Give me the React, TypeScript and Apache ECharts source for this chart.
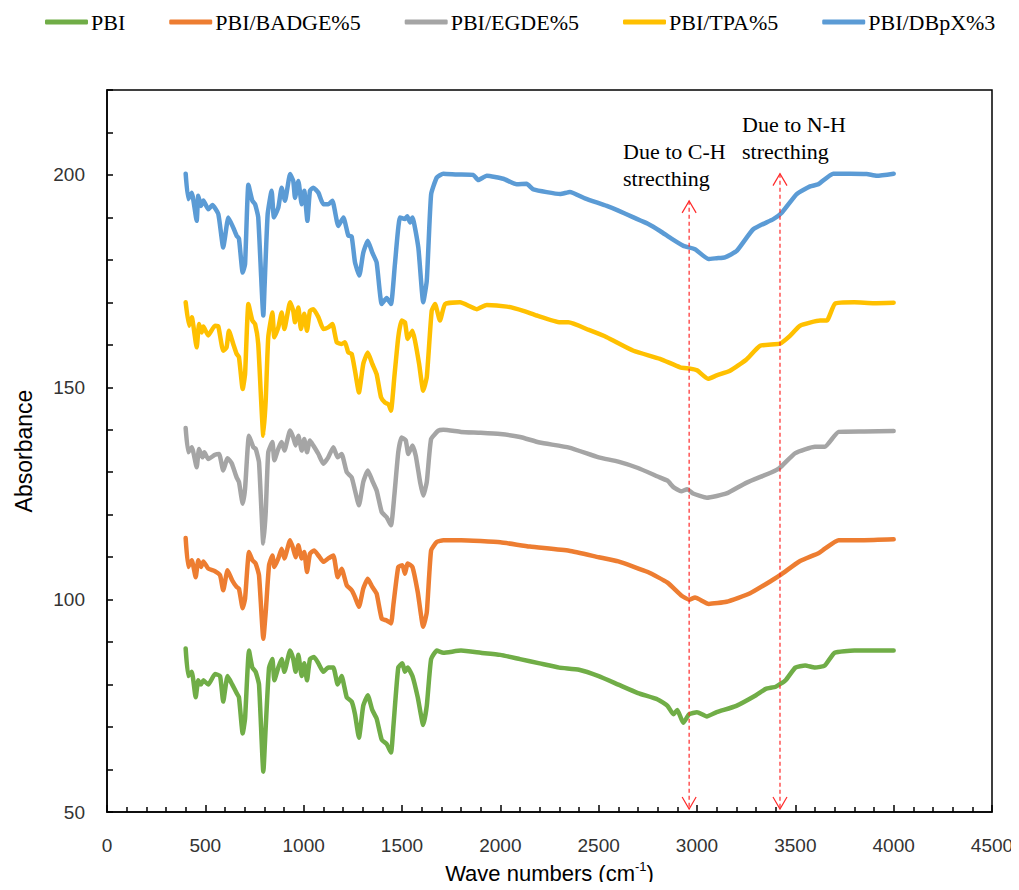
import React, { useEffect, useRef } from "react";
import * as echarts from "echarts";

const seriesNames = ["PBI", "PBI/BADGE%5", "PBI/EGDE%5", "PBI/TPA%5", "PBI/DBpX%3"];
const seriesColors = ["#70AD47", "#ED7D31", "#A5A5A5", "#FFC000", "#5B9BD5"];

const pbiX = [400,413,431,451,464,478,490,515,549,575,591,613,637,659,671,690,702,722,739,756,773,795,807,824,841,851,871,888,902,931,947,959,973,990,1003,1017,1032,1053,1075,1100,1125,1151,1173,1193,1219,1244,1261,1281,1303,1326,1349,1371,1397,1422,1444,1456,1481,1502,1515,1529,1553,1580,1608,1626,1648,1677,1710,1800,1900,2000,2100,2200,2300,2400,2500,2600,2700,2800,2850,2880,2900,2930,2960,3000,3050,3100,3200,3300,3350,3400,3450,3500,3550,3600,3650,3700,3800,4000];
const pbiY = [88.5,82,83,77,81,80,81,80,82.5,82,76,82,80,78,77,68.5,72,88,84,83,80,59.5,70,84,86,81,84,86,83,88,86,83,87,82,85,81,86,86.5,85,83,84,84,80,82,77,76,73,67.5,75,77.5,74,72,67,66,64,70,84,85,83,84,82,77,70.5,75,86,88,87.5,88,87.5,87,86,85,84,83.5,82,80,78,76.5,75,73,74,71,73,73.5,72.5,73.5,75,77.5,79,79.5,81,84,84.5,84,84.5,87.5,88,88];

const badgeX = [400,413,431,451,464,478,490,515,549,575,591,613,637,659,671,690,702,722,739,756,773,795,807,824,841,851,871,888,902,931,947,959,973,990,1003,1017,1032,1053,1075,1100,1125,1151,1173,1193,1219,1244,1261,1281,1303,1326,1349,1371,1397,1422,1444,1456,1481,1502,1515,1529,1553,1580,1608,1626,1648,1677,1710,1800,1900,2000,2150,2350,2500,2600,2750,2850,2920,2960,2990,3060,3150,3270,3380,3430,3520,3620,3650,3720,3850,4000];
const badgeY = [114.5,107.7,109.3,105.3,109.3,107.7,109.0,107.3,106.7,105.7,102.2,106.9,104.5,103.0,102.6,98.0,100.2,111.2,109.3,108.5,105.7,90.8,97.0,108.1,110.4,107.7,109.7,112.0,109.7,114.0,112.0,110.0,112.8,109.7,111.2,106.5,110.8,111.6,110.4,108.9,109.7,110.4,105.3,107.3,103.4,102.2,100.6,98.3,102.6,104.9,103.0,101.4,95.5,95.1,94.4,98.7,107.7,108.1,106.1,108.5,107.7,101.8,93.6,97.0,111.6,113.6,114.0,114.0,113.8,113.5,112.5,111.5,110.0,109.0,106.5,104.0,101.0,100.0,100.5,99.0,99.5,101.5,104.5,106.0,109.0,111.0,112.0,114.0,114.0,114.2];

const egdeX = [400,413,431,456,468,485,495,515,549,570,591,613,634,659,671,690,702,722,744,756,773,795,807,820,841,851,871,888,902,931,947,959,973,990,1003,1017,1032,1049,1075,1100,1125,1151,1173,1193,1219,1244,1261,1281,1303,1326,1349,1371,1397,1422,1444,1461,1481,1498,1519,1532,1553,1570,1592,1608,1626,1648,1685,1710,1800,1900,2000,2100,2200,2350,2500,2600,2700,2800,2850,2880,2920,2950,2980,3050,3150,3250,3380,3420,3500,3600,3650,3720,3850,4000];
const egdeY = [140.4,134.7,135.9,131.2,135.5,133.5,134.7,133.1,134.1,134.3,130.4,133.3,132.1,128.8,127.7,122.6,126.1,138.6,135.9,135.5,132.3,113.2,120.6,134.7,137.1,132.8,135.5,137.1,135.1,139.8,138.2,136.3,138.6,135.1,137.8,134.7,137.5,136.3,134.3,132.0,133.5,135.9,133.5,134.3,130.0,128.8,125.7,122.2,127.7,130.4,128.0,125.7,120.6,119.4,117.5,124.5,134.7,138.2,137.5,134.3,136.3,133.9,127.7,124.5,127.7,137.8,139.8,140.0,139.5,139.3,139.0,138.3,137.0,135.8,133.5,132.5,131.0,129.0,128.0,126.5,125.5,126.0,125.0,124.0,125.0,127.5,130.0,131.0,134.5,136.0,136.0,139.5,139.6,139.7];

const tpaX = [400,417,431,456,468,481,490,515,549,566,591,608,620,642,659,671,690,702,719,739,753,769,795,807,820,841,851,871,888,902,931,947,956,973,986,1003,1017,1032,1049,1075,1100,1125,1146,1168,1193,1210,1227,1244,1261,1281,1303,1326,1349,1371,1393,1414,1431,1444,1461,1481,1498,1515,1529,1553,1566,1587,1608,1626,1651,1668,1693,1719,1795,1880,1931,2033,2117,2185,2304,2346,2450,2541,2677,2812,2914,2965,3000,3056,3100,3168,3250,3321,3422,3470,3524,3626,3660,3702,3800,3900,4000];
const tpaY = [170.0,164.5,166.5,159.4,164.9,162.9,164.3,162.2,164.5,164.3,158.6,159.4,163.3,160.2,157.9,157.1,149.6,153.1,169.6,165.7,164.9,160.2,138.6,146.9,161.8,167.6,161.8,164.1,167.6,163.7,170.0,168.0,165.3,168.8,163.7,167.3,163.3,168.0,168.4,166.5,163.7,164.1,164.9,160.6,160.2,160.6,158.2,157.9,153.9,148.8,155.5,158.2,155.5,153.1,147.7,146.4,146.0,144.5,152.4,161.8,165.7,165.3,161.4,163.3,161.0,155.5,149.2,152.4,168.0,169.6,165.7,169.6,170.0,168.4,169.4,169.0,168.0,166.9,165.3,165.3,163.5,161.8,158.6,156.7,154.7,154.4,154.0,152.0,152.8,153.9,156.5,159.8,160.3,162.0,164.5,165.7,165.7,169.7,170.0,169.8,169.9];

const dbpxX = [400,413,431,456,464,478,490,515,536,566,591,600,617,642,659,671,690,702,719,739,753,769,795,801,817,837,849,871,888,905,931,947,956,973,990,1003,1019,1032,1049,1075,1100,1125,1146,1176,1202,1227,1244,1261,1283,1303,1326,1349,1371,1397,1422,1444,1464,1490,1515,1527,1541,1553,1583,1608,1626,1648,1677,1710,1780,1862,1888,1931,2015,2083,2134,2168,2304,2354,2430,2541,2600,2677,2750,2812,2870,2931,2990,3058,3100,3142,3202,3286,3388,3431,3507,3575,3617,3693,3780,3863,3914,4000];
const dbpxY = [200.3,194.3,195.8,189.2,195.1,192.7,194.0,191.9,192.9,190.8,182.9,185.3,190.0,187.6,185.7,185.0,177.0,179.0,197.7,193.9,193.1,190.0,166.9,173.5,190.8,196.3,190.0,192.3,197.0,193.9,200.2,198.6,194.6,198.6,193.1,196.3,189.2,196.3,197.0,195.8,193.1,193.1,193.9,188.0,190.0,185.7,185.5,179.4,176.3,181.7,184.5,181.7,179.4,169.6,171.0,169.6,179.0,190.0,189.6,190.3,188.8,190.0,182.9,170.0,175.1,195.4,199.4,200.3,200.1,200.0,198.8,199.8,199.1,197.8,197.9,196.6,195.5,196.0,194.5,192.7,191.6,190.0,188.5,186.8,185.0,183.3,182.5,180.2,180.4,180.6,182.1,187.2,189.6,191.1,195.5,197.3,197.8,200.3,200.3,200.2,199.8,200.3];

const allX = [pbiX, badgeX, egdeX, tpaX, dbpxX];
const allY = [pbiY, badgeY, egdeY, tpaY, dbpxY];

// annotation arrows: wavenumber, bottom value, top value
const arrowX = [2960, 3422];
const arrowBottom = [50.7, 50.7];
const arrowTop = [193.9, 200.3];
const noteTexts = ["Due to C-H\nstrecthing", "Due to N-H\nstrecthing"];

export default function App() {
  const ref = useRef<HTMLDivElement>(null);
  useEffect(() => {
    if (!ref.current) return;
    const chart = echarts.init(ref.current, null, { renderer: "svg" });
    const series = seriesNames.map((name, i) => ({
      name,
      type: "line",
      data: allX[i].map((x, j) => [x, allY[i][j]]),
      showSymbol: false,
      symbol: "none",
      smooth: 0.15,
      lineStyle: { color: seriesColors[i], width: 4.5, cap: "round", join: "round" },
      itemStyle: { color: seriesColors[i] },
      z: 2 + i,
    }));
    chart.setOption({
      animation: false,
      backgroundColor: "#fff",
      legend: {
        top: 6,
        left: 40,
        itemWidth: 43,
        itemHeight: 5,
        itemGap: 44,
        icon: "roundRect",
        data: seriesNames,
        textStyle: { fontFamily: "Liberation Serif", fontSize: 22, color: "#000", padding: [0, 0, 0, -2] },
      },
      grid: {
        left: 107,
        right: 27,
        top: 90,
        bottom: 78,
        show: true,
        borderColor: "#000",
        borderWidth: 1.5,
        containLabel: false,
      },
      xAxis: {
        type: "value",
        min: 0,
        max: 4500,
        interval: 500,
        name: "{a|Wave numbers (cm}{s|-1}{a|)}",
        nameLocation: "middle",
        nameGap: 48,
        nameTextStyle: {
          rich: {
            a: { fontFamily: "Liberation Sans", fontSize: 22, color: "#000", lineHeight: 26 },
            s: { fontFamily: "Liberation Sans", fontSize: 13, color: "#000", lineHeight: 26, verticalAlign: "top", padding: [0, 0, 8, 0] },
          },
        },
        axisLine: { show: true, lineStyle: { color: "#000", width: 1.5 } },
        axisTick: { show: true, inside: true, length: 7, lineStyle: { color: "#000", width: 1.5 } },
        minorTick: { show: true, splitNumber: 5, length: 5, lineStyle: { color: "#000", width: 1.5 } },
        splitLine: { show: false },
        axisLabel: { fontFamily: "Liberation Sans", fontSize: 19, color: "#333", margin: 24, formatter: (v: number) => String(v) },
      },
      yAxis: {
        type: "value",
        min: 50,
        max: 220,
        interval: 10,
        name: "Absorbance",
        nameLocation: "middle",
        nameGap: 72,
        nameTextStyle: { fontFamily: "Liberation Sans", fontSize: 23, color: "#000" },
        axisLine: { show: true, lineStyle: { color: "#000", width: 1.5 } },
        axisTick: { show: true, inside: true, length: 6, lineStyle: { color: "#000", width: 1.5 } },
        splitLine: { show: false },
        axisLabel: {
          fontFamily: "Liberation Sans",
          fontSize: 19,
          color: "#333",
          margin: 22,
          formatter: (v: number) => (v % 50 === 0 && v <= 200 ? String(v) : ""),
        },
      },
      series,
    });

    const gfx: any[] = [];
    arrowX.forEach((x, i) => {
      const top = chart.convertToPixel({ gridIndex: 0 }, [x, arrowTop[i]]) as number[];
      const bot = chart.convertToPixel({ gridIndex: 0 }, [x, arrowBottom[i]]) as number[];
      const red = "#FF2A2A";
      gfx.push({
        type: "line",
        shape: { x1: top[0], y1: top[1], x2: bot[0], y2: bot[1] },
        style: { stroke: red, lineWidth: 1.2, lineDash: [4, 3] },
        z: 100,
      });
      gfx.push({
        type: "polyline",
        shape: { points: [[top[0] - 7, top[1] + 12], [top[0], top[1]], [top[0] + 7, top[1] + 12]] },
        style: { stroke: red, lineWidth: 1.2, fill: null },
        z: 100,
      });
      gfx.push({
        type: "polyline",
        shape: { points: [[bot[0] - 7, bot[1] - 12], [bot[0], bot[1]], [bot[0] + 7, bot[1] - 12]] },
        style: { stroke: red, lineWidth: 1.2, fill: null },
        z: 100,
      });
    });
    gfx.push({
      type: "text",
      x: 623,
      y: 138,
      style: { text: noteTexts[0], fontFamily: "Liberation Serif", fontSize: 22, lineHeight: 27, fill: "#000" },
      z: 100,
    });
    gfx.push({
      type: "text",
      x: 742,
      y: 111,
      style: { text: noteTexts[1], fontFamily: "Liberation Serif", fontSize: 22, lineHeight: 27, fill: "#000" },
      z: 100,
    });
    chart.setOption({ graphic: gfx });

    return () => chart.dispose();
  }, []);
  return <div ref={ref} style={{ width: 1019, height: 890, margin: -8 }} />;
}
